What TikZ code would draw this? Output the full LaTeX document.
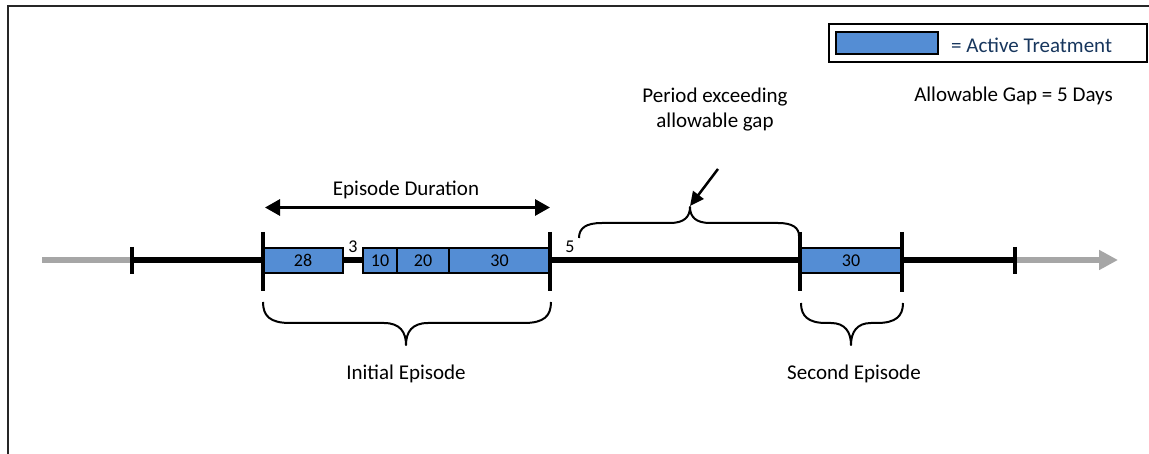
\documentclass[tikz,border=0pt]{standalone}
\usepackage{fontspec}
\setmainfont{Carlito}
\usetikzlibrary{arrows.meta}
\definecolor{boxblue}{RGB}{84,141,212}
\definecolor{legtext}{RGB}{23,54,93}
\definecolor{greyline}{RGB}{166,166,166}
\tikzset{
  lbl/.style={font=\fontsize{21}{25}\selectfont, anchor=base, inner sep=0pt},
  num/.style={font=\fontsize{18}{21}\selectfont, inner sep=0pt},
  tbox/.style={draw=black, fill=boxblue, line width=2pt, inner sep=0pt, minimum height=25pt, font=\fontsize{18}{21}\selectfont},
  mainline/.style={line width=6pt, black},
  greyl/.style={line width=6pt, greyline},
  tick/.style={line width=3.5pt, black},
  bracel/.style={line width=2pt, black, line join=round},
  frame/.style={line width=2pt, black!85},
}
\begin{document}
\begin{tikzpicture}[x=1pt,y=-1pt]
\useasboundingbox (0,0) rectangle (1149,454);
% frame
\draw[frame] (8,454) -- (8,6) -- (1149,6);

% timeline coordinates
\coordinate (g0) at (42,260);
\coordinate (s1) at (132,260);
\coordinate (s2) at (1015,260);
\coordinate (g1) at (1118,260);

\draw[greyl] (g0) -- (s1);
\draw[greyl, -{Triangle[length=19pt,width=19pt]}] (s2) -- (g1);
\draw[mainline] (s1) -- (s2);

% boxes
\node[tbox, minimum width=80pt]  (b28) at (303,260.5) {28};
\node[tbox, minimum width=34pt]  (b10) at (380,260.5) {10};
\node[tbox, minimum width=52pt]  (b20) at (423,260.5) {20};
\node[tbox, minimum width=101pt] (b30) at (499.5,260.5) {30};
\node[tbox, minimum width=102pt] (c30) at (851,260.5) {30};

% ticks
\draw[tick] (132,247) -- (132,274);
\draw[tick] (1015,247) -- (1015,274);
\draw[tick] (263,232) -- (263,291);
\draw[tick] (550,232) -- (550,291);
\draw[tick] (800,232) -- (800,291);
\draw[tick] (902,232) -- (902,292);

% gap numbers
\node[num] (n3) at (353,247) {3};
\node[num] (n5) at (570,247) {5};

% episode duration arrow
\coordinate (d0) at (265,207.5);
\coordinate (d1) at (550,207.5);
\draw[line width=3pt, {Triangle[length=15pt,width=16pt]}-{Triangle[length=15pt,width=16pt]}] (d0) -- (d1);
\node[lbl] (dur) at (406,196) {Episode Duration};

% initial episode brace
\draw[bracel] (263,302) .. controls (263,316) and (270,323) .. (290,323) -- (384,323)
  .. controls (400,323) and (406,332) .. (406,345) .. controls (406,332) and (412,323) .. (428,323)
  -- (524,323) .. controls (544,323) and (551,316) .. (551,302);
\node[lbl] (ie) at (406,379) {Initial Episode};

% second episode brace
\draw[bracel] (801,303) .. controls (801,316) and (808,323) .. (826,323) -- (831,323)
  .. controls (845,323) and (851,332) .. (851,345) .. controls (851,332) and (857,323) .. (871,323)
  -- (877,323) .. controls (896,323) and (903,316) .. (903,303);
\node[lbl] (se) at (854,379) {Second Episode};

% period brace
\draw[bracel] (579,238) .. controls (579,228) and (586,223) .. (602,223) -- (670,223)
  .. controls (684,223) and (690,217) .. (690,207) .. controls (690,217) and (696,223) .. (710,223)
  -- (778,223) .. controls (793,223) and (799,228) .. (799,236);
\coordinate (ptip) at (690,206);
\coordinate (pstart) at (718,169);
\draw[line width=2.5pt, -{Triangle[length=14pt,width=13pt]}] (pstart) -- (ptip);
\node[lbl] (pe1) at (715,103) {Period exceeding};
\node[lbl] (pe2) at (715,128) {allowable gap};

% allowable gap
\node[lbl] (ag) at (1013.5,102) {Allowable Gap = 5 Days};

% legend
\node[draw=black, line width=2pt, minimum width=318pt, minimum height=38pt, inner sep=0pt] (leg) at (988,43) {};
\node[draw=black, fill=boxblue, line width=2pt, minimum width=102pt, minimum height=22pt, inner sep=0pt] (sw) at (887,43) {};
\node[lbl, anchor=base west, text=legtext] (legt) at (951,53) {= Active Treatment};
\end{tikzpicture}
\end{document}
